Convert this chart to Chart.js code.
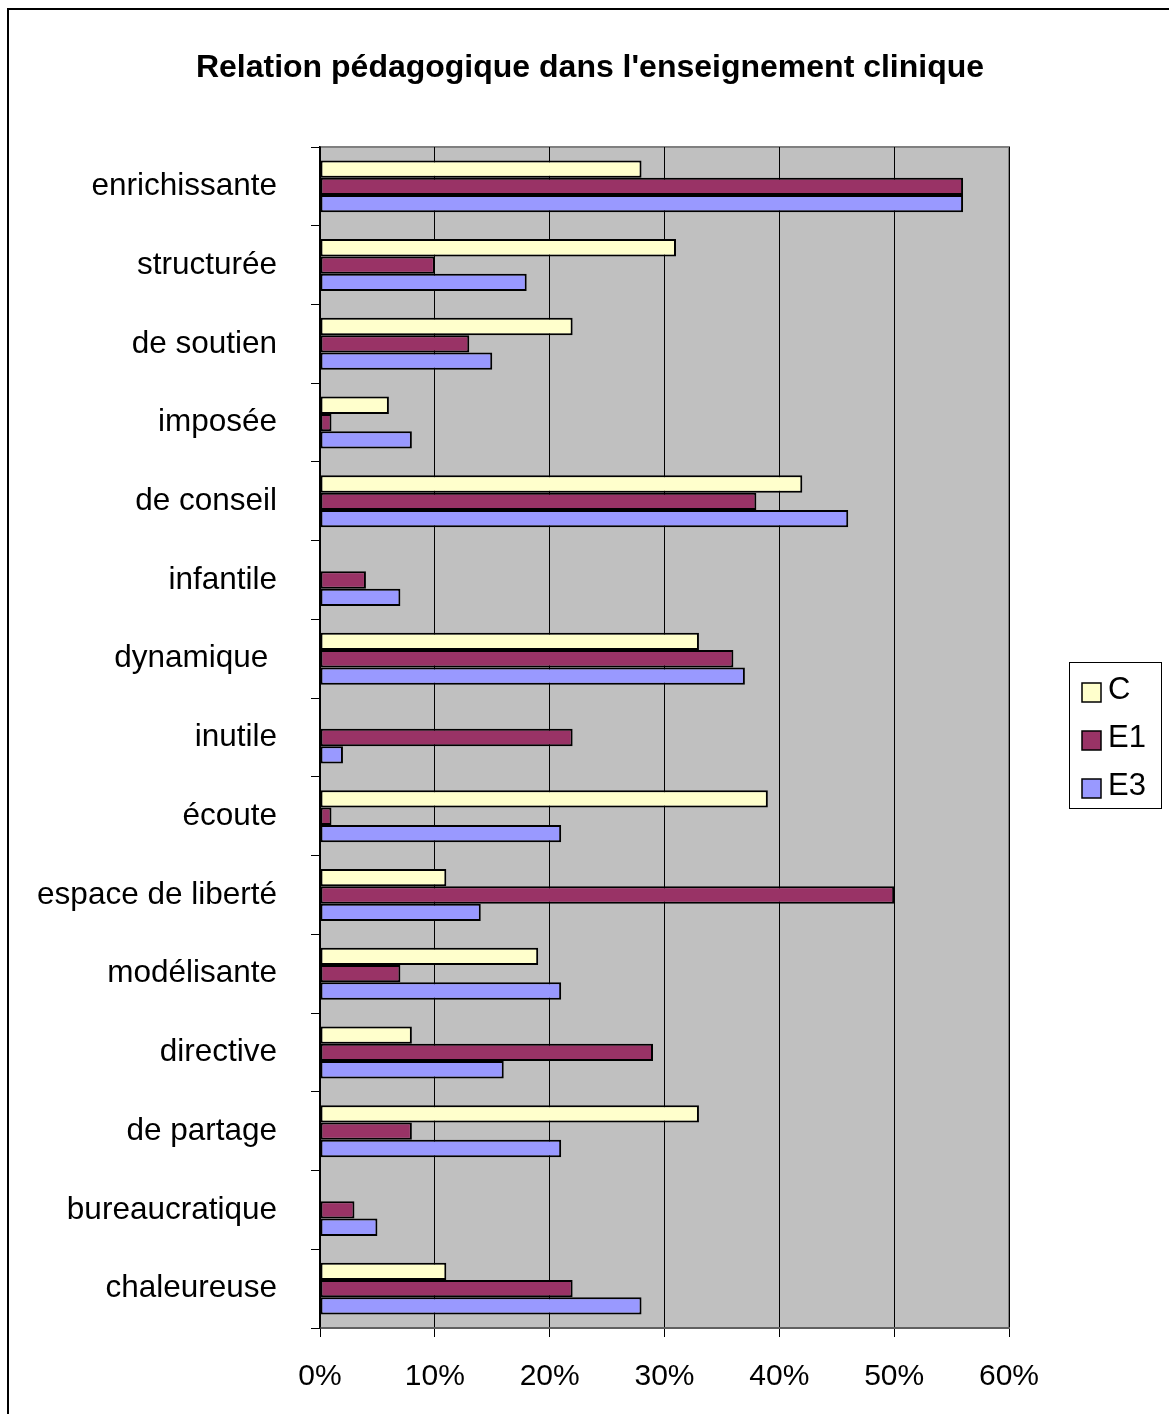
<!DOCTYPE html>
<html>
<head>
<meta charset="utf-8">
<script src="https://cdn.jsdelivr.net/npm/chart.js@4/dist/chart.umd.min.js"></script>
<style>
  html, body { margin: 0; padding: 0; background: #fff; }
  #wrap { width: 1169px; height: 1414px; position: relative; }
</style>
</head>
<body>
<div id="wrap"><canvas id="grafico" width="1169" height="1414"></canvas></div>
<script>
// Données (en %)
const categories = ['enrichissante', 'structurée', 'de soutien', 'imposée', 'de conseil', 'infantile',
  'dynamique ', 'inutile', 'écoute', 'espace de liberté', 'modélisante', 'directive', 'de partage',
  'bureaucratique', 'chaleureuse'];
const serieC  = [28, 31, 22, 6, 42, 0, 33, 0, 39, 11, 19, 8, 33, 0, 11];
const serieE1 = [56, 10, 13, 1, 38, 4, 36, 22, 1, 50, 7, 29, 8, 3, 22];
const serieE3 = [56, 18, 15, 8, 46, 7, 37, 2, 21, 14, 21, 16, 21, 5, 28];
const xTicks = [0, 10, 20, 30, 40, 50, 60];
const titre = "Relation pédagogique dans l'enseignement clinique";

const police = '"Liberation Sans", Arial, sans-serif';

// fond gris du graphique, titre, cadre extérieur et légende encadrée
const decor = {
    id: 'decor',
    beforeDraw(chart) {
        const { ctx, chartArea: a } = chart;
        ctx.save();
        ctx.fillStyle = '#C0C0C0';
        ctx.fillRect(a.left, a.top, a.right - a.left, a.bottom - a.top);
        ctx.strokeStyle = '#808080';
        ctx.lineWidth = 2;
        ctx.beginPath();
        ctx.moveTo(a.left, a.top);
        ctx.lineTo(a.right, a.top);
        ctx.lineTo(a.right, a.bottom);
        ctx.stroke();
        ctx.restore();
    },
    afterDraw(chart) {
        const ctx = chart.ctx;
        ctx.save();
        ctx.strokeStyle = '#000';
        ctx.lineWidth = 2;
        ctx.strokeRect(8, 9, 1300, 1500);
        // titre
        ctx.fillStyle = '#000';
        ctx.font = 'bold 32px ' + police;
        ctx.textAlign = 'center';
        ctx.textBaseline = 'middle';
        ctx.fillText(titre, 590, 68);
        // légende
        ctx.textAlign = 'left';
        ctx.lineWidth = 1;
        ctx.strokeRect(1069.5, 662.5, 92, 146);
        ctx.font = '31px ' + police;
        chart.data.datasets.forEach((ds, i) => {
            const y = 688 + i * 48;
            ctx.fillStyle = ds.backgroundColor;
            ctx.fillRect(1082, y - 5, 19, 19);
            ctx.strokeStyle = '#000';
            ctx.lineWidth = 1.5;
            ctx.strokeRect(1082, y - 5, 19, 19);
            ctx.fillStyle = '#000';
            ctx.fillText(ds.label, 1108, y + 2);
        });
        ctx.restore();
    }
};

const ctx = document.getElementById('grafico').getContext('2d');
new Chart(ctx, {
    type: 'bar',
    data: {
        labels: categories,
        datasets: [
            { label: 'C', data: serieC, backgroundColor: '#FFFFCC' },
            { label: 'E1', data: serieE1, backgroundColor: '#993366' },
            { label: 'E3', data: serieE3, backgroundColor: '#9999FF' }
        ].map(d => Object.assign(d, {
            borderColor: '#000',
            borderWidth: 2,
            borderSkipped: false,
            categoryPercentage: 0.66,
            barPercentage: 1.0
        }))
    },
    options: {
        responsive: false,
        animation: false,
        indexAxis: 'y',
        layout: { padding: { left: 0, right: 160, top: 147, bottom: 0 } },
        plugins: {
            legend: { display: false },
            tooltip: { enabled: false },
            title: { display: false }
        },
        scales: {
            x: {
                min: 0,
                max: 60,
                afterBuildTicks(scale) { scale.ticks = xTicks.map(v => ({ value: v })); },
                afterFit(scale) { scale.height = 86; },
                grid: { color: '#000', lineWidth: 1, tickLength: 9, tickColor: '#000' },
                border: { color: '#606060', width: 2 },
                ticks: {
                    color: '#000',
                    padding: 22,
                    font: { family: police, size: 30 },
                    callback: v => v + '%'
                }
            },
            y: {
                afterFit(scale) { scale.width = 320; },
                grid: { offset: true, drawOnChartArea: false, tickLength: 9, color: '#000' },
                border: { color: '#000', width: 1.5 },
                ticks: {
                    color: '#000',
                    padding: 34,
                    font: { family: police, size: 31.5 }
                }
            }
        }
    },
    plugins: [decor]
});
</script>
</body>
</html>
